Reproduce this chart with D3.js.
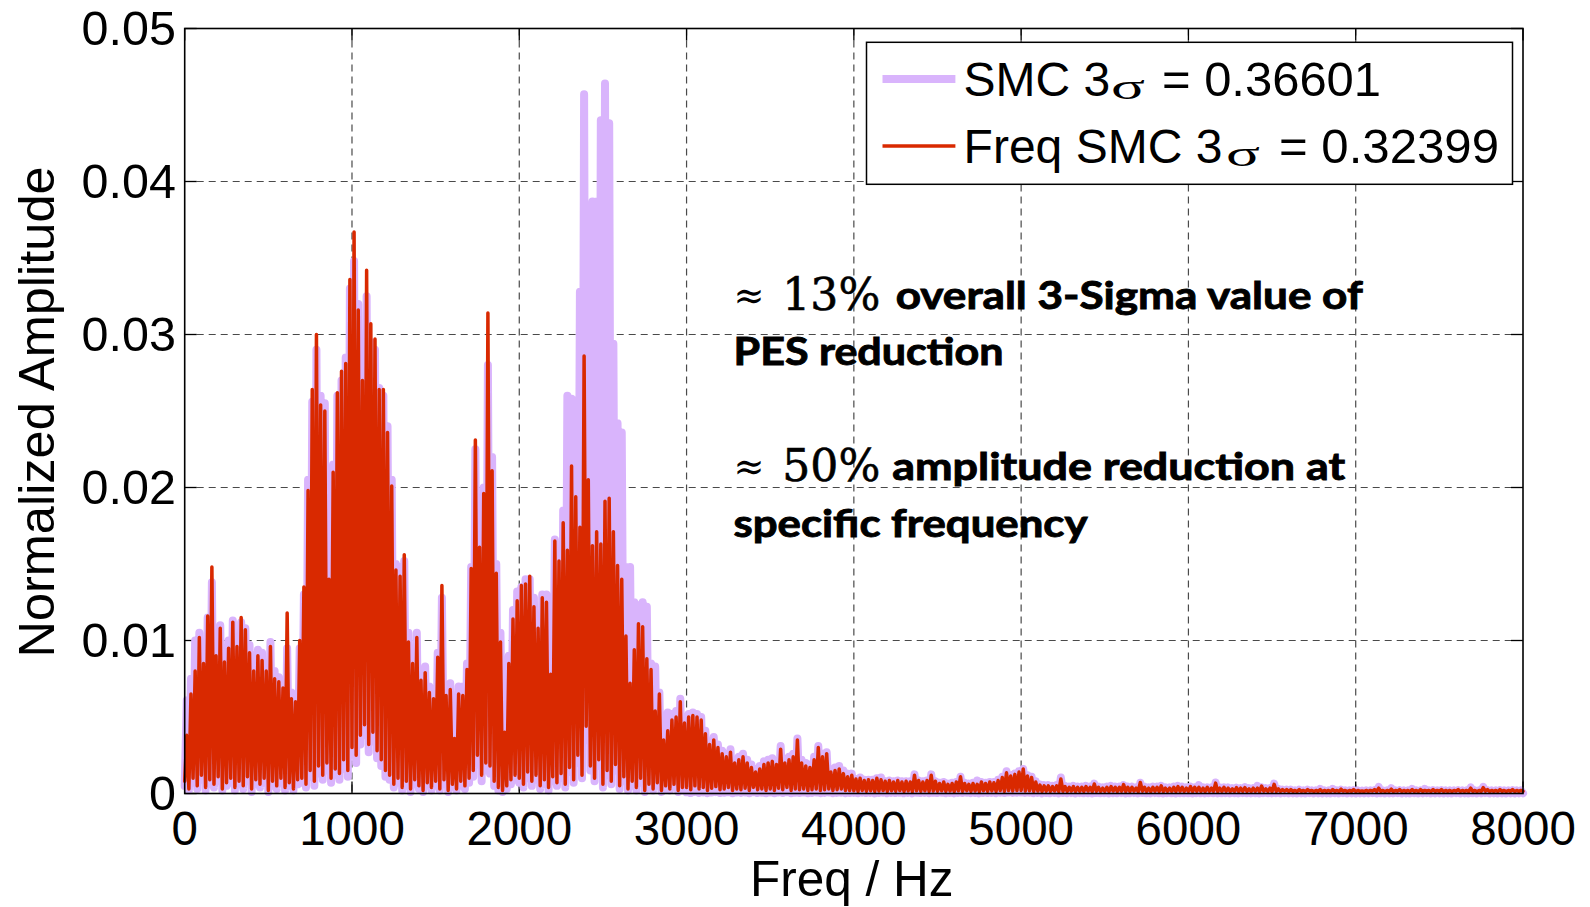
<!DOCTYPE html>
<html><head><meta charset="utf-8">
<script src="https://cdn.jsdelivr.net/npm/d3@7/dist/d3.min.js"></script>
<style>
html,body{margin:0;padding:0;background:#fff;}
svg{display:block;}
</style></head>
<body>
<svg id="chart" width="1590" height="907"></svg>
<script>
// ---------------- DATA ----------------
// spectrum in 25 Hz bins; amplitudes in units of 1e-3
const binWidthHz = 25;
const binStartHz = d3.range(0, 8000, binWidthHz);
const freqTicks = [0, 1000, 2000, 3000, 4000, 5000, 6000, 7000, 8000];
const freqTickLabels = ["0", "1000", "2000", "3000", "4000", "5000", "6000", "7000", "8000"];
const ampTicks = [0, 0.01, 0.02, 0.03, 0.04, 0.05];
const ampTickLabels = ["0", "0.01", "0.02", "0.03", "0.04", "0.05"];
const ampUnit = 1e-3;

// SMC: per-bin peak (x1e-3)
const smcPeak = [
6.1,7.5,10.0,10.5,9.0,11.5,13.8,10.2,11.0,9.5,10.0,11.3,10.2,11.2,10.8,9.7,9.0,9.4,9.2,8.3,
9.9,8.0,7.6,7.2,9.5,6.6,6.5,9.5,13.0,20.5,25.6,29.0,26.0,25.5,15.0,21.5,26.0,27.0,28.5,33.0,
34.8,32.0,28.0,32.5,29.5,29.0,26.5,26.0,24.0,20.5,15.0,14.8,15.2,10.5,9.0,10.5,8.0,8.3,7.0,6.8,
9.2,12.8,7.0,7.2,4.5,7.0,7.0,8.5,14.8,22.5,17.0,20.0,28.0,22.0,15.0,10.5,5.0,9.0,12.0,13.2,
13.5,14.0,14.0,12.8,11.5,13.0,13.0,9.0,16.6,15.5,18.5,26.0,25.8,25.7,32.8,45.7,35.0,38.7,38.7,44.0,
46.4,43.8,29.4,24.2,23.6,14.8,14.8,12.5,12.3,12.5,12.2,8.5,8.3,6.6,5.1,5.3,5.2,5.4,6.2,5.0,
5.2,5.3,5.2,5.0,4.1,3.4,3.7,3.2,2.8,2.6,2.9,2.2,2.4,2.6,2.2,1.9,1.6,1.8,2.1,2.2,
2.3,2.1,3.1,2.2,2.4,2.6,3.6,2.2,2.0,1.9,2.4,3.1,2.6,2.7,1.6,1.7,1.8,1.5,1.3,1.3,
0.95,1.05,0.9,0.9,0.9,1.0,1.05,0.8,0.85,0.8,0.85,0.8,0.8,0.8,1.25,0.85,0.8,0.85,1.25,0.8,
0.7,0.75,0.65,0.7,0.75,1.1,0.7,0.65,0.7,0.85,0.75,0.7,0.75,0.75,0.9,1.1,1.45,1.2,1.3,1.45,
1.6,1.2,1.1,0.8,0.6,0.55,0.55,0.5,0.55,1.05,0.5,0.45,0.5,0.45,0.45,0.5,0.45,0.65,0.45,0.4,
0.45,0.5,0.45,0.45,0.55,0.45,0.45,0.4,0.7,0.45,0.4,0.45,0.45,0.5,0.4,0.4,0.45,0.5,0.45,0.4,
0.45,0.4,0.55,0.4,0.4,0.4,0.72,0.4,0.4,0.4,0.35,0.38,0.35,0.42,0.35,0.35,0.5,0.4,0.35,0.35,
0.65,0.3,0.25,0.25,0.25,0.2,0.25,0.2,0.25,0.2,0.2,0.3,0.2,0.2,0.3,0.2,0.25,0.2,0.2,0.22,
0.2,0.18,0.2,0.2,0.22,0.44,0.2,0.2,0.35,0.2,0.22,0.2,0.2,0.3,0.2,0.2,0.3,0.2,0.22,0.2,
0.22,0.2,0.2,0.2,0.22,0.2,0.2,0.4,0.2,0.2,0.44,0.22,0.2,0.2,0.22,0.2,0.2,0.22,0.2,0.2
];
// SMC: per-bin trough (x1e-3)
const smcTrough = [
0.5,0.2,0.7,0.3,0.9,0.2,0.6,0.4,0.8,0.2,0.5,0.7,0.2,0.6,0.3,0.8,0.1,0.6,0.4,0.7,
0.1,0.5,0.3,0.7,0.2,0.5,0.2,0.6,0.7,0.4,1.1,0.5,1.3,0.9,1.5,0.7,1.2,0.9,1.6,1.1,
2.5,2.0,3.2,3.8,2.7,3.4,2.3,1.8,1.1,0.9,0.4,0.7,0.2,0.5,0.1,0.6,0.3,0.1,0.5,0.2,
0.5,0.2,0.6,0.1,0.4,0.2,0.5,0.3,0.7,1.1,1.9,0.8,1.5,1.3,0.5,0.2,0.1,0.3,0.6,0.9,
0.7,0.4,1.0,0.5,0.9,0.3,0.6,0.2,0.8,0.5,1.0,0.4,1.4,0.7,2.0,1.0,3.5,1.5,0.8,1.8,
0.4,1.2,0.6,1.5,0.3,0.8,0.2,0.5,0.2,0.7,0.1,0.4,0.2,0.5,0.1,0.3,0.2,0.4,0.1,0.2,
0.08,0.03,0.1,0.04,0.07,0.02,0.06,0.09,0.03,0.05,0.08,0.02,0.06,0.04,0.07,0.02,0.08,0.03,0.05,0.02,
0.06,0.02,0.07,0.03,0.08,0.02,0.05,0.03,0.06,0.02,0.04,0.06,0.02,0.04,0.06,0.02,0.04,0.05,0.02,0.03,
0.04,0.02,0.05,0.03,0.04,0.01,0.03,0.05,0.02,0.04,0.03,0.05,0.02,0.04,0.01,0.05,0.03,0.04,0.02,0.04,
0.03,0.05,0.02,0.04,0.01,0.04,0.03,0.05,0.02,0.03,0.01,0.04,0.03,0.04,0.02,0.05,0.03,0.06,0.04,0.05,
0.06,0.04,0.05,0.02,0.04,0.01,0.03,0.02,0.04,0.01,0.03,0.02,0.03,0.01,0.03,0.02,0.03,0.01,0.03,0.02,
0.03,0.01,0.03,0.02,0.03,0.01,0.02,0.03,0.01,0.03,0.02,0.01,0.03,0.02,0.01,0.03,0.02,0.01,0.03,0.02,
0.02,0.01,0.03,0.02,0.01,0.03,0.02,0.01,0.02,0.03,0.01,0.02,0.01,0.03,0.02,0.01,0.02,0.01,0.03,0.02,
0.01,0.02,0.01,0.03,0.01,0.02,0.01,0.02,0.01,0.03,0.01,0.02,0.01,0.02,0.01,0.02,0.01,0.03,0.01,0.02,
0.01,0.02,0.01,0.02,0.03,0.01,0.02,0.01,0.02,0.01,0.03,0.01,0.02,0.01,0.02,0.01,0.02,0.03,0.01,0.02,
0.02,0.01,0.02,0.01,0.03,0.01,0.02,0.01,0.02,0.01,0.02,0.03,0.01,0.02,0.01,0.02,0.01,0.02,0.01,0.02
];
// Freq SMC: per-bin peak (x1e-3)
const freqSmcPeak = [
3.8,6.5,8.0,10.2,8.5,11.6,14.8,9.0,10.8,8.6,9.5,11.2,9.6,11.5,10.7,9.2,8.0,9.0,8.7,8.0,
9.6,7.5,7.3,6.9,11.8,6.2,6.0,10.0,13.5,19.8,26.4,30.0,25.4,25.0,14.0,21.0,26.2,27.6,28.1,33.6,
36.7,31.6,27.0,34.2,30.7,29.7,26.4,26.4,23.6,20.1,14.6,14.2,15.6,9.9,8.5,10.2,7.4,7.9,6.6,6.2,
8.9,13.6,6.4,6.8,3.6,6.5,6.4,8.1,14.7,23.1,16.1,19.6,31.4,21.1,14.4,9.9,4.0,8.5,11.4,12.6,
13.6,13.7,14.2,12.2,10.8,12.8,12.5,7.8,16.5,15.2,17.7,15.9,21.4,19.4,17.4,28.6,20.5,16.2,17.1,16.3,
19.1,19.3,17.1,14.9,14.0,10.3,7.2,9.4,11.1,10.9,8.8,8.1,5.4,6.5,3.5,4.1,4.8,5.0,6.0,4.6,
5.0,5.1,5.0,4.8,3.9,3.2,3.5,3.0,2.6,2.4,2.7,2.0,2.2,2.4,2.0,1.7,1.4,1.6,1.9,2.0,
2.1,1.9,2.9,2.0,2.2,2.4,3.5,2.0,1.8,1.7,2.2,3.0,2.4,2.6,1.4,1.5,1.6,1.3,1.1,1.2,
0.95,1.0,0.85,0.9,0.85,1.0,0.9,0.8,0.85,0.75,0.85,0.75,0.8,0.75,1.2,0.85,0.75,0.85,1.2,0.8,
0.65,0.75,0.6,0.65,0.75,1.1,0.65,0.6,0.65,0.6,0.75,0.65,0.75,0.7,0.85,1.05,1.35,1.15,1.25,1.4,
1.6,1.15,1.05,0.75,0.55,0.5,0.5,0.45,0.5,0.95,0.45,0.4,0.45,0.4,0.4,0.45,0.4,0.62,0.4,0.35,
0.4,0.45,0.4,0.4,0.58,0.4,0.4,0.35,0.72,0.4,0.35,0.4,0.4,0.5,0.35,0.35,0.4,0.45,0.4,0.35,
0.45,0.4,0.4,0.35,0.4,0.35,0.68,0.35,0.4,0.35,0.3,0.38,0.35,0.38,0.3,0.35,0.35,0.48,0.3,0.35,
0.6,0.3,0.25,0.25,0.25,0.2,0.25,0.2,0.25,0.2,0.2,0.25,0.2,0.2,0.25,0.2,0.28,0.2,0.2,0.25,
0.2,0.17,0.2,0.2,0.25,0.35,0.2,0.2,0.28,0.2,0.25,0.2,0.2,0.25,0.2,0.25,0.2,0.2,0.25,0.2,
0.25,0.2,0.2,0.2,0.25,0.2,0.2,0.35,0.2,0.2,0.38,0.25,0.2,0.2,0.25,0.2,0.2,0.25,0.2,0.2
];
// Freq SMC: per-bin trough (x1e-3)
const freqSmcTrough = [
0.8,0.3,1.0,0.5,1.2,0.4,0.9,0.6,1.1,0.3,0.7,1.0,0.4,0.8,0.5,1.1,0.3,0.9,0.6,1.0,
0.2,0.8,0.5,1.0,0.4,0.7,0.3,0.9,1.0,0.6,1.5,0.8,1.8,1.2,2.0,1.0,1.6,1.3,2.2,1.5,
3.0,2.5,3.8,4.5,3.2,4.0,2.8,2.2,1.5,1.2,0.6,1.0,0.4,0.8,0.3,0.9,0.5,0.2,0.7,0.4,
0.8,0.3,0.9,0.2,0.6,0.3,0.8,0.5,1.0,1.5,2.5,1.2,2.0,1.8,0.8,0.4,0.2,0.5,0.9,1.2,
1.0,0.6,1.4,0.8,1.2,0.5,0.9,0.4,1.1,0.7,1.3,0.6,1.7,0.9,2.5,1.2,4.4,1.8,1.0,2.2,
0.6,1.5,0.8,1.9,0.5,1.1,0.3,0.8,0.4,1.0,0.2,0.6,0.3,0.7,0.2,0.5,0.3,0.6,0.2,0.4,
0.4,0.25,0.5,0.3,0.4,0.2,0.35,0.45,0.25,0.3,0.4,0.2,0.3,0.25,0.35,0.2,0.4,0.25,0.3,0.2,
0.3,0.2,0.35,0.25,0.4,0.2,0.3,0.25,0.3,0.2,0.25,0.3,0.2,0.25,0.3,0.2,0.25,0.3,0.2,0.2,
0.18,0.14,0.2,0.15,0.18,0.13,0.17,0.19,0.14,0.18,0.15,0.19,0.14,0.17,0.13,0.18,0.15,0.18,0.14,0.17,
0.15,0.18,0.14,0.17,0.13,0.18,0.15,0.19,0.14,0.16,0.13,0.18,0.15,0.17,0.14,0.19,0.15,0.2,0.17,0.19,
0.2,0.16,0.18,0.14,0.16,0.13,0.15,0.14,0.16,0.13,0.15,0.14,0.16,0.13,0.15,0.14,0.16,0.13,0.15,0.14,
0.15,0.13,0.16,0.14,0.15,0.13,0.14,0.16,0.13,0.15,0.14,0.13,0.15,0.14,0.13,0.15,0.14,0.13,0.15,0.14,
0.14,0.13,0.15,0.14,0.13,0.15,0.14,0.13,0.14,0.15,0.13,0.14,0.13,0.15,0.14,0.13,0.14,0.13,0.15,0.14,
0.13,0.14,0.13,0.15,0.13,0.14,0.13,0.14,0.13,0.15,0.13,0.14,0.13,0.14,0.13,0.14,0.13,0.15,0.13,0.14,
0.13,0.14,0.13,0.14,0.15,0.13,0.14,0.13,0.14,0.13,0.15,0.13,0.14,0.13,0.14,0.13,0.14,0.15,0.13,0.14,
0.14,0.13,0.14,0.13,0.15,0.13,0.14,0.13,0.14,0.13,0.14,0.15,0.13,0.14,0.13,0.14,0.13,0.14,0.13,0.14
];

const seriesNames = ["SMC 3", "Freq SMC 3"];
const seriesSigma = ["= 0.36601", "= 0.32399"];
const seriesColors = ["rgb(217,180,252)", "rgb(217,41,0)"];
const annotationLines = [
  ["≈", "13%", "overall 3-Sigma value of"],
  ["", "", "PES reduction"],
  ["≈", "50%", "amplitude reduction at"],
  ["", "", "specific frequency"]
];

// ---------------- LAYOUT ----------------
const svg = d3.select("#chart");
const W = 1590, H = 907;
const plot = {left: 184.7, right: 1523, top: 28.5, bottom: 793.5};
const x = d3.scaleLinear().domain([0, 8000]).range([plot.left, plot.right]);
const y = d3.scaleLinear().domain([0, 0.05]).range([plot.bottom, plot.top]);
const sansFont = "'Liberation Sans', Arial, Helvetica, sans-serif";

svg.append("rect").attr("width", W).attr("height", H).attr("fill", "#fff");

// grid
const grid = svg.append("g").attr("stroke", "#4a4a4a").attr("stroke-width", 1.2)
  .attr("stroke-dasharray", "7,5").attr("fill", "none");
freqTicks.slice(1, -1).forEach(f => {
  grid.append("line").attr("x1", x(f)).attr("x2", x(f)).attr("y1", plot.top).attr("y2", plot.bottom);
});
ampTicks.slice(1, -1).forEach(a => {
  grid.append("line").attr("x1", plot.left).attr("x2", plot.right).attr("y1", y(a)).attr("y2", y(a));
});

// inward ticks
const tickLen = 12;
const ticks = svg.append("g").attr("stroke", "#000").attr("stroke-width", 1.3);
freqTicks.forEach(f => {
  ticks.append("line").attr("x1", x(f)).attr("x2", x(f)).attr("y1", plot.bottom).attr("y2", plot.bottom - tickLen);
  ticks.append("line").attr("x1", x(f)).attr("x2", x(f)).attr("y1", plot.top).attr("y2", plot.top + tickLen);
});
ampTicks.forEach(a => {
  ticks.append("line").attr("x1", plot.left).attr("x2", plot.left + tickLen).attr("y1", y(a)).attr("y2", y(a));
  ticks.append("line").attr("x1", plot.right).attr("x2", plot.right - tickLen).attr("y1", y(a)).attr("y2", y(a));
});

// data lines (zigzag through trough/peak of each bin)
function zigzag(peaks, troughs) {
  const pts = [];
  binStartHz.forEach((f, i) => {
    pts.push([f, troughs[i] * ampUnit]);
    pts.push([f + binWidthHz / 2, peaks[i] * ampUnit]);
  });
  pts.push([8000, troughs[troughs.length - 1] * ampUnit]);
  return pts;
}
const line = d3.line().x(d => x(d[0])).y(d => y(d[1]));
svg.append("path").datum(zigzag(smcPeak, smcTrough))
  .attr("d", line).attr("fill", "none").attr("stroke", seriesColors[0])
  .attr("stroke-width", 8).attr("stroke-linejoin", "round").attr("stroke-linecap", "round");
svg.append("path").datum(zigzag(freqSmcPeak, freqSmcTrough))
  .attr("d", line).attr("fill", "none").attr("stroke", seriesColors[1])
  .attr("stroke-width", 3.5).attr("stroke-linejoin", "round").attr("stroke-linecap", "round");

// frame
svg.append("rect").attr("x", plot.left).attr("y", plot.top)
  .attr("width", plot.right - plot.left).attr("height", plot.bottom - plot.top)
  .attr("fill", "none").attr("stroke", "#000").attr("stroke-width", 1.6);

// tick labels
const labels = svg.append("g").attr("font-family", sansFont).attr("fill", "#000");
freqTicks.forEach((f, i) => {
  labels.append("text").attr("x", x(f)).attr("y", 845).attr("font-size", 47.5)
    .attr("text-anchor", "middle").text(freqTickLabels[i]);
});
ampTicks.forEach((a, i) => {
  labels.append("text").attr("x", 176).attr("y", y(a) + 16).attr("font-size", 48.5)
    .attr("text-anchor", "end").text(ampTickLabels[i]);
});

// axis titles
svg.append("text").attr("x", (plot.left + plot.right) / 2 - 2).attr("y", 896)
  .attr("text-anchor", "middle").attr("font-family", sansFont).attr("font-size", 49.5)
  .text("Freq / Hz");
svg.append("text").attr("transform", `translate(54,${(plot.top + plot.bottom) / 2 + 1}) rotate(-90)`)
  .attr("text-anchor", "middle").attr("font-family", sansFont).attr("font-size", 50.5)
  .text("Normalized Amplitude");

// legend
const lg = svg.append("g");
lg.append("rect").attr("x", 866.5).attr("y", 42.3).attr("width", 646).attr("height", 142)
  .attr("fill", "#fff").attr("stroke", "#000").attr("stroke-width", 1.5);
const legendRows = [
  {ly: 79, by: 95.7, w: 8, sx: 1111, nx: 1162, nw: 219},
  {ly: 146, by: 163.3, w: 3.5, sx: 1226, nx: 1279, nw: 220}
];
legendRows.forEach((r, i) => {
  lg.append("line").attr("x1", 882.5).attr("x2", 955.4).attr("y1", r.ly).attr("y2", r.ly)
    .attr("stroke", seriesColors[i]).attr("stroke-width", r.w);
  lg.append("text").attr("x", 963.6).attr("y", r.by)
    .attr("font-family", sansFont).attr("font-size", 48).text(seriesNames[i]);
  lg.append("text").attr("x", r.sx).attr("y", r.by + 3)
    .attr("font-family", "'Liberation Serif', 'Times New Roman', serif").attr("font-size", 36)
    .attr("textLength", 34).attr("lengthAdjust", "spacingAndGlyphs").text("σ");
  lg.append("text").attr("x", r.nx).attr("y", r.by)
    .attr("font-family", sansFont).attr("font-size", 48)
    .attr("textLength", r.nw).attr("lengthAdjust", "spacingAndGlyphs").text(seriesSigma[i]);
});

// annotation
const ann = svg.append("g").attr("fill", "#000");
const annLayout = [
  {by: 309, sym: {x: 733.5, w: 31}, num: {x: 782.3, w: 98}, txt: {x: 895.7, w: 467}},
  {by: 365, txt: {x: 733.5, w: 270}},
  {by: 480, sym: {x: 733.5, w: 31}, num: {x: 782.3, w: 98}, txt: {x: 892.2, w: 453}},
  {by: 536.7, txt: {x: 733.5, w: 354}}
];
annotationLines.forEach((ln, i) => {
  const L = annLayout[i];
  if (ln[0]) {
    ann.append("text").attr("x", L.sym.x).attr("y", L.by)
      .attr("font-family", "'DejaVu Serif', serif").attr("font-size", 40)
      .attr("textLength", L.sym.w).attr("lengthAdjust", "spacingAndGlyphs").text(ln[0]);
    ann.append("text").attr("x", L.num.x).attr("y", L.by + 1)
      .attr("font-family", "'DejaVu Serif', serif").attr("font-size", 44)
      .attr("stroke", "#000").attr("stroke-width", 0.6)
      .attr("textLength", L.num.w).attr("lengthAdjust", "spacingAndGlyphs").text(ln[1]);
  }
  ann.append("text").attr("x", L.txt.x).attr("y", L.by)
    .attr("font-family", "Lato, 'Open Sans', sans-serif").attr("font-weight", 700).attr("font-size", 38)
    .attr("stroke", "#000").attr("stroke-width", 0.9)
    .attr("textLength", L.txt.w).attr("lengthAdjust", "spacingAndGlyphs").text(ln[2]);
});
</script>
</body></html>
